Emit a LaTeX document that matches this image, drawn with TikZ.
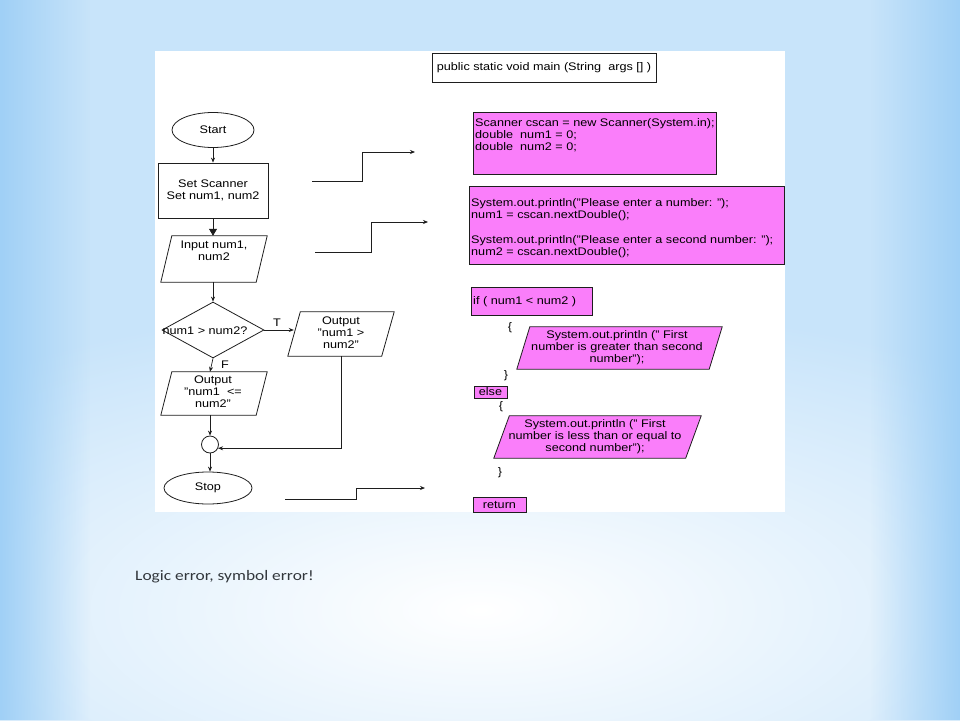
\documentclass[tikz,border=0pt]{standalone}
\usepackage{fontspec}
\setmainfont{Liberation Sans}[FakeStretch=1.15]
\newfontfamily\slidefont{Carlito}[FakeStretch=1.2]
\usetikzlibrary{shapes.geometric,arrows.meta,calc,fadings}
\definecolor{pinkfill}{RGB}{250,126,250}
\definecolor{bgblue}{RGB}{200,228,250}
\definecolor{bgdeep}{RGB}{160,208,246}
\definecolor{ink}{RGB}{30,30,30}
\definecolor{captxt}{RGB}{50,55,60}
\tikzfading[name=sidefadeL, left color=transparent!0, right color=transparent!100]
\tikzfading[name=sidefadeR, left color=transparent!100, right color=transparent!0]
\tikzset{
  flow/.style={draw=ink, line width=0.8pt, fill=white, inner sep=0pt},
  txt/.style={inner sep=0pt, align=center},
  codebox/.style={draw=ink, line width=0.8pt, fill=pinkfill, inner sep=0pt},
  holder/.style={draw=none, inner sep=0pt, rectangle},
  conn/.style={draw=ink, line width=0.7pt, -{Stealth[length=5pt,width=4pt]}},
  thickarrow/.style={draw=ink, line width=0.8pt, -{Triangle[length=7pt,width=8pt]}},
}
% #1 node name, #2 slant (pt), #3 style
\newcommand{\drawpara}[3]{\path[#3] ([xshift=#2pt]#1.north west) -- (#1.north east) -- ([xshift=-#2pt]#1.south east) -- (#1.south west) -- cycle;}
\begin{document}
\begin{tikzpicture}[x=1pt,y=-1pt,font=\fontsize{11}{12}\selectfont]
\useasboundingbox (0,0) rectangle (960,720);
% background
\fill[bgblue] (0,0) rectangle (960,720);
\shade[inner color=white, outer color=bgblue] (480,610) ellipse (780 and 310);
\fill[bgdeep, path fading=sidefadeL] (0,0) rectangle (90,720);
\fill[bgdeep, path fading=sidefadeR] (870,0) rectangle (960,720);
\fill[white] (155,51) rectangle (785,512);

% flowchart
\node[flow, ellipse, minimum width=82pt, minimum height=35pt] (start) at (213,130) {Start};
\node[flow, rectangle, minimum width=110pt, minimum height=55pt, align=center] (set) at (213,190.5) {Set Scanner\\Set num1, num2};
\node[holder, minimum width=106pt, minimum height=46pt] (inp) at (214,259) {};
\drawpara{inp}{11}{flow}
\node[txt] (inptxt) at (214,251) {Input num1,\\num2};
\node[flow, diamond, minimum width=102pt, minimum height=56pt] (dia) at (213,330) {};
\node[txt] (diatxt) at (205,331) {num1 > num2?};
\node[holder, minimum width=106pt, minimum height=44pt] (outT) at (341,334) {};
\drawpara{outT}{12.5}{flow}
\node[txt] (outTtxt) at (341,333) {Output\\"num1 >\\num2"};
\node[holder, minimum width=106pt, minimum height=43pt] (outF) at (214,393.5) {};
\drawpara{outF}{11}{flow}
\node[txt] (outFtxt) at (213,392) {Output\\"num1\ \ <=\\num2"};
\node[flow, circle, minimum size=17pt] (circ) at (210,444.5) {};
\node[flow, ellipse, minimum width=88pt, minimum height=32pt] (stop) at (208,488) {Stop};
\node[txt] (tlab) at (277,323) {T};
\node[txt] (flab) at (225,365) {F};

\draw[conn] (start) -- (set);
\draw[thickarrow] (set.south) -- (set.south |- inp.north);
\draw[conn] (dia.north |- inp.south) -- (dia.north);
\draw[conn] (dia.east) -- ($(dia.east -| outT.west)+(6,0)$);
\draw[conn] (dia.south) -- ([xshift=-4pt]outF.north);
\draw[conn] (circ.north |- outF.south) -- (circ.north);
\draw[conn] (outT.south) |- (circ.-25);
\draw[conn] (circ.south) -- (circ.south |- stop.north);

% step connectors
\coordinate (s1a) at (312,181);
\coordinate (s1b) at (415,152);
\coordinate (s2a) at (315,252);
\coordinate (s2b) at (428,222);
\coordinate (s3a) at (285,499);
\coordinate (s3b) at (425,488);
\draw[conn] (s1a) -- ++(50,0) |- (s1b);
\draw[conn] (s2a) -- ++(56,0) |- (s2b);
\draw[conn] (s3a) -- ++(71,0) |- (s3b);

% code side
\node[flow, rectangle, minimum width=224pt, minimum height=29pt] (mainb) at (544,67.5) {public static void main (String\ \ args [] )};
\node[codebox, minimum width=243pt, minimum height=62pt] (b1) at (594.5,143) {};
\node[txt, align=left, anchor=north west] (b1t) at (475,118.5) {Scanner cscan = new Scanner(System.in);\\double\ \ num1 = 0;\\double\ \ num2 = 0;};
\node[codebox, minimum width=315pt, minimum height=78pt] (b2) at (626.5,225) {};
\node[txt, align=left, anchor=north west] (b2t) at (471,198.5) {System.out.println("Please enter a number: ");\\num1 = cscan.nextDouble();\\[13pt]System.out.println("Please enter a second number: ");\\num2 = cscan.nextDouble();};
\node[codebox, minimum width=121pt, minimum height=28pt] (ifb) at (531.5,301) {};
\node[txt, anchor=west] (ift) at (473,302) {if ( num1 < num2 )};
\node[txt] (br1) at (510,328) {\{};
\node[holder, minimum width=205pt, minimum height=42pt] (p1) at (619.5,348) {};
\drawpara{p1}{13}{codebox}
\node[txt] (p1t) at (617,347.5) {System.out.println (" First\\number is greater than second\\number");};
\node[txt] (br2) at (506,376) {\}};
\node[codebox, minimum width=33pt, minimum height=12pt] (elseb) at (490.5,392) {else};
\node[txt] (br3) at (501,407) {\{};
\node[holder, minimum width=207pt, minimum height=42pt] (p2) at (597.5,437) {};
\drawpara{p2}{15.5}{codebox}
\node[txt] (p2t) at (595,436.5) {System.out.println (" First\\number is less than or equal to\\second number");};
\node[txt] (br4) at (500,473) {\}};
\node[codebox, minimum width=53pt, minimum height=15pt] (retb) at (499.5,504.5) {return};

% caption
\node[inner sep=0pt, anchor=west, font=\slidefont\fontsize{14.5}{17}\selectfont, text=captxt] (cap) at (135,577) {Logic error, symbol error!};
\end{tikzpicture}
\end{document}
